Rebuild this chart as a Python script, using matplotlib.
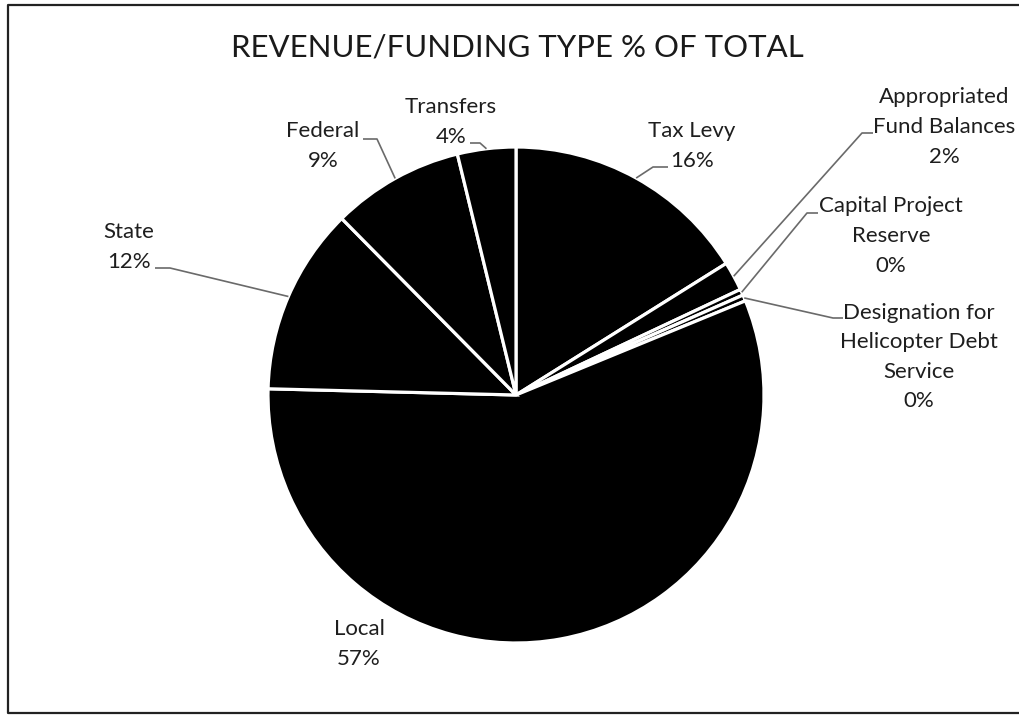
import matplotlib
matplotlib.use('Agg')
import matplotlib.pyplot as plt
import numpy as np

# ---- data ----
categories = ['Tax Levy', 'Appropriated\nFund Balances', 'Capital Project\nReserve',
              'Designation for\nHelicopter Debt\nService', 'Local', 'State', 'Federal', 'Transfers']
values = [16.1, 1.9, 0.4, 0.4, 56.6, 12.2, 8.6, 3.8]
pct_labels = ['16%', '2%', '0%', '0%', '57%', '12%', '9%', '4%']
title = 'REVENUE/FUNDING TYPE % OF TOTAL'

FONT = ['Lato', 'DejaVu Sans']
plt.rcParams['font.family'] = FONT

W, H = 1019, 715
fig = plt.figure(figsize=(W / 100, H / 100), dpi=100)
ax = fig.add_axes([0, 0, 1, 1])


def Y(y):
    return H - y


cx, cy, r = 516, 395, 248
wedges, _ = ax.pie(values, colors=['black'] * len(values), startangle=90,
                   counterclock=False, center=(cx, Y(cy)), radius=r,
                   wedgeprops=dict(edgecolor='white', linewidth=2.3), frame=True)
ax.set_xlim(0, W)
ax.set_ylim(0, H)
ax.set_aspect('equal')
ax.axis('off')

# label layout (pixel coords, y down): text centre, elbow, end of leader
layout = {
    0: ((692, 146), (653, 167), (668, 167)),
    1: ((944, 127), (862, 133), (873, 133)),
    2: ((891, 236), (807, 213), (818, 213)),
    3: ((919, 357), (833, 318), (843, 318)),
    4: ((359, 644), None, None),
    5: ((129, 247), (170, 268), (155, 268)),
    6: ((323, 146), (377, 139), (363, 139)),
    7: ((451, 122), (480, 143), (470, 143)),
}

txt_color = '#1e1e1e'
for i, w in enumerate(wedges):
    (tx, ty), elbow, end = layout[i]
    ax.text(tx, Y(ty), categories[i] + '\n' + pct_labels[i], ha='center', va='center',
            fontsize=16, linespacing=1.6, color=txt_color)
    if elbow is not None:
        mid = np.deg2rad((w.theta1 + w.theta2) / 2)
        ex = cx + r * np.cos(mid)
        ey = Y(cy) + r * np.sin(mid)
        ax.plot([ex, elbow[0], end[0]], [ey, Y(elbow[1]), Y(end[1])],
                color='#6a6a6a', lw=1.2, solid_capstyle='butt')

# title with width fitted to reference
t = ax.text(517, Y(47), title, ha='center', va='center', fontsize=24, color='#1a1a1a')
fig.canvas.draw()
wpx = t.get_window_extent().width
t.set_fontsize(24 * 571 / wpx)

# border
ax.plot([1030, 8, 8, 1030], [Y(5), Y(5), Y(713), Y(713)], color='#222222', lw=1.6,
        clip_on=False)

fig.savefig('out.png', dpi=100)
